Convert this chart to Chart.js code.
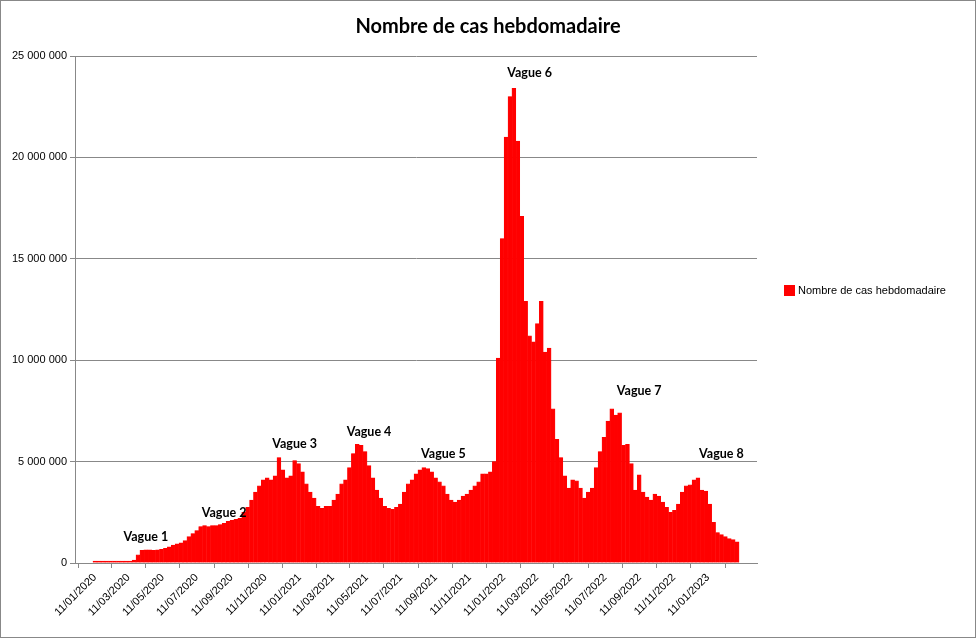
<!DOCTYPE html>
<html>
<head>
<meta charset="utf-8">
<script src="https://cdn.jsdelivr.net/npm/chart.js@4"></script>
<style>
  body { margin: 0; background: #fff; }
  #wrap { width: 976px; height: 638px; }
</style>
</head>
<body>
<div id="wrap"><canvas id="cas-hebdo"></canvas></div>
<script>
// weekly cases (millions), one per week starting 11/01/2020
const weeklyCases = [
    0.1, 0.1, 0.1, 0.1, 0.1, 0.1, 0.1, 0.1, 0.1, 0.1,
    0.15, 0.4, 0.62, 0.65, 0.65, 0.62, 0.65, 0.68, 0.72, 0.8,
    0.88, 0.95, 1.0, 1.1, 1.3, 1.45, 1.6, 1.8, 1.85, 1.8,
    1.85, 1.85, 1.9, 1.95, 2.05, 2.1, 2.15, 2.2, 2.5, 2.75,
    3.1, 3.5, 3.8, 4.1, 4.2, 4.1, 4.3, 5.2, 4.6, 4.2,
    4.3, 5.05, 4.9, 4.5, 3.9, 3.5, 3.2, 2.8, 2.7, 2.8,
    2.8, 3.1, 3.4, 3.9, 4.1, 4.7, 5.4, 5.85, 5.8, 5.5,
    4.8, 4.2, 3.6, 3.2, 2.8, 2.7, 2.65, 2.75, 2.9, 3.5,
    3.9, 4.1, 4.4, 4.6, 4.7, 4.65, 4.5, 4.2, 4.0, 3.8,
    3.4, 3.1, 3.0, 3.1, 3.3, 3.4, 3.6, 3.8, 4.0, 4.4,
    4.4, 4.5, 5.0, 10.1, 16.0, 21.0, 23.0, 23.4, 20.8, 17.1,
    12.9, 11.2, 10.9, 11.8, 12.9, 10.4, 10.6, 7.6, 6.1, 5.2,
    4.3, 3.7, 4.1, 4.05, 3.7, 3.2, 3.5, 3.7, 4.7, 5.5,
    6.2, 7.0, 7.6, 7.3, 7.4, 5.8, 5.85, 4.9, 3.6, 4.35,
    3.5, 3.25, 3.1, 3.4, 3.3, 3.0, 2.75, 2.5, 2.6, 2.9,
    3.5, 3.8, 3.85, 4.1, 4.2, 3.6, 3.55, 2.9, 2.0, 1.5,
    1.4, 1.3, 1.2, 1.15, 1.05
];

const startDate = Date.UTC(2020, 0, 11);

const tickLabels = [
    '11/01/2020', '11/03/2020', '11/05/2020', '11/07/2020', '11/09/2020', '11/11/2020',
    '11/01/2021', '11/03/2021', '11/05/2021', '11/07/2021', '11/09/2021', '11/11/2021',
    '11/01/2022', '11/03/2022', '11/05/2022', '11/07/2022', '11/09/2022', '11/11/2022',
    '11/01/2023'
];

const waveLabels = ['Vague 1', 'Vague 2', 'Vague 3', 'Vague 4', 'Vague 5', 'Vague 6', 'Vague 7', 'Vague 8'];
const waveWeeks  = [13, 33, 51, 70, 89, 111, 139, 160];
const waveValues = [1.3, 2.5, 5.9, 6.5, 5.4, 24.2, 8.5, 5.4];

const seriesLabel = 'Nombre de cas hebdomadaire';

function weekOf(label)
{
    let p = label.split('/');
    let t = Date.UTC(+p[2], +p[1] - 1, +p[0]);
    return (t - startDate) / (7 * 86400000);
}

const tickWeeks = tickLabels.map(weekOf);

function formatNum(v)
{
    return String(Math.round(v)).replace(/\B(?=(\d{3})+(?!\d))/g, ' ');
}

const decorPlugin = {
    id: 'decor',
    afterDraw(chart) {
        const ctx = chart.ctx;
        const xs = chart.scales.x, ys = chart.scales.y;
        ctx.save();
        // title
        ctx.fillStyle = '#000';
        ctx.font = 'bold 20px Lato';
        ctx.textAlign = 'center';
        ctx.textBaseline = 'middle';
        ctx.fillText(seriesLabel, 488, 27);
        // wave labels
        ctx.font = 'bold 12.5px Lato';
        ctx.textBaseline = 'bottom';
        waveLabels.forEach((lab, i) => {
            ctx.fillText(lab, xs.getPixelForValue(waveWeeks[i]), ys.getPixelForValue(waveValues[i] * 1e6) + 7);
        });
        // legend
        ctx.fillStyle = '#ff0000';
        ctx.fillRect(784, 285, 11, 11);
        ctx.fillStyle = '#000';
        ctx.font = '11px "Liberation Sans"';
        ctx.textAlign = 'left';
        ctx.textBaseline = 'middle';
        ctx.fillText(seriesLabel, 798, 291);
        // right plot border + outer border
        ctx.strokeStyle = '#888';
        ctx.lineWidth = 1;
        ctx.strokeRect(0.5, 0.5, 975, 637);
        ctx.restore();
    }
};

new Chart(document.getElementById('cas-hebdo'), {
    type: 'bar',
    data: {
        datasets: [{
            label: seriesLabel,
            data: weeklyCases.map((v, i) => ({ x: i, y: v * 1e6 })),
            backgroundColor : '#ff0000',
            borderColor     : '#ff0000',
            borderWidth     : 0.6,
            barPercentage   : 1,
            categoryPercentage: 1
        }]
    },
    options: {
        responsive: true,
        maintainAspectRatio: false,
        animation: false,
        layout: { padding: { top: 56, right: 219, left: 0, bottom: 0 } },
        plugins: {
            legend: { display: false },
            tooltip: { enabled: false }
        },
        scales: {
            x: {
                type: 'linear',
                min: -0.5,
                max: weeklyCases.length - 0.5,
                afterBuildTicks: (axis) => { axis.ticks = tickWeeks.map(v => ({ value: v })); },
                afterFit: (axis) => { axis.height = 75; },
                ticks: {
                    autoSkip: false,
                    minRotation: 45,
                    maxRotation: 45,
                    color: '#000',
                    font: { family: 'Liberation Sans', size: 11 },
                    callback: (v, i) => tickLabels[i]
                },
                grid: { drawOnChartArea: false, color: '#888', tickLength: 5 },
                border: { color: '#888' }
            },
            y: {
                min: 0,
                max: 25e6,
                afterFit: (axis) => { axis.width = 75; },
                ticks: {
                    stepSize: 5e6,
                    color: '#000',
                    font: { family: 'Liberation Sans', size: 11 },
                    callback: (v) => formatNum(v)
                },
                grid: { color: '#888', tickLength: 5 },
                border: { color: '#888' }
            }
        }
    },
    plugins: [decorPlugin]
});
</script>
</body>
</html>
